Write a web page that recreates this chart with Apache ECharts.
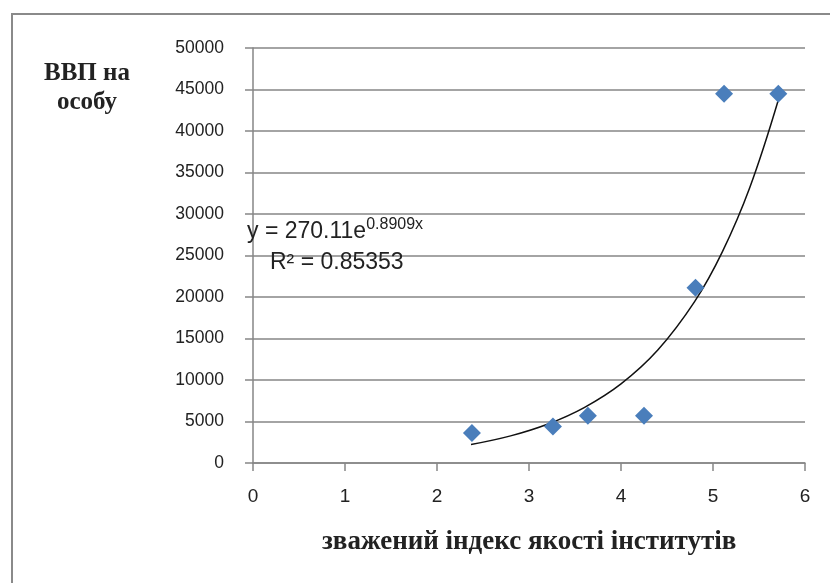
<!DOCTYPE html>
<html><head><meta charset="utf-8">
<script src="https://cdn.jsdelivr.net/npm/echarts@6/dist/echarts.min.js"></script>
<style>html,body{margin:0;padding:0;background:#fff}#c{width:830px;height:583px}</style>
</head><body><div id="c"></div>
<script>
const xValues = [2.38, 3.26, 3.64, 4.25, 4.81, 5.12, 5.71];
const yValues = [3600, 4400, 5700, 5700, 21100, 44500, 44500];
const trendX = [2.37, 2.8, 3.2, 3.6, 4.0, 4.4, 4.8, 5.1, 5.4, 5.71];
const trendY = [2230, 3270, 4670, 6680, 9530, 13610, 19440, 25400, 33190, 43730];
const xTicks = [0, 1, 2, 3, 4, 5, 6];
const yTicks = [0, 5000, 10000, 15000, 20000, 25000, 30000, 35000, 40000, 45000, 50000];
const yName = 'ВВП на\nособу';
const xName = 'зважений індекс якості інститутів';
const eqText = 'y = 270.11e';
const eqExp = '0.8909x';
const r2Text = 'R² = 0.85353';

const FONT = '"Liberation Sans"';
const chart = echarts.init(document.getElementById('c'), null, {renderer: 'canvas'});
chart.setOption({
  animation: false,
  grid: {left: 253, right: 25, top: 48, bottom: 120, containLabel: false},
  xAxis: {
    type: 'value', min: xTicks[0], max: xTicks[xTicks.length - 1], interval: 1,
    axisLine: {show: true, onZero: false, lineStyle: {color: '#868686', width: 1.5}},
    axisTick: {show: true, length: 8, lineStyle: {color: '#868686', width: 1.5}},
    axisLabel: {margin: 24, formatter: v => String(v), fontFamily: FONT, fontSize: 19, color: '#222'},
    splitLine: {show: false}
  },
  yAxis: {
    type: 'value', min: yTicks[0], max: yTicks[yTicks.length - 1], interval: 5000,
    axisLine: {show: true, onZero: false, lineStyle: {color: '#868686', width: 1.5}},
    axisTick: {show: true, length: 8, lineStyle: {color: '#868686', width: 1.5}},
    axisLabel: {margin: 29, formatter: v => String(v), fontFamily: FONT, fontSize: 17.5, color: '#222'},
    splitLine: {show: true, lineStyle: {color: '#868686', width: 1.5}}
  },
  graphic: [
    {type: 'rect', shape: {x: 12, y: 14, width: 840, height: 600}, style: {fill: 'none', stroke: '#8a8a8a', lineWidth: 2}, z: 0, silent: true},
    {type: 'text', left: 44, top: 59, style: {text: yName, font: 'bold 25px "Liberation Serif"', fill: '#222', textAlign: 'center', lineHeight: 29}, z: 10},
    {type: 'text', left: 322, top: 529, style: {text: xName, font: 'bold 27px "Liberation Serif"', fill: '#222'}, z: 10},
    {type: 'text', left: 247, top: 217, style: {
      text: '{a|' + eqText + '}{b|' + eqExp + '}',
      rich: {a: {fontFamily: FONT, fontSize: 23, fill: '#222', verticalAlign: 'bottom'},
             b: {fontFamily: FONT, fontSize: 16, fill: '#222', verticalAlign: 'top', padding: [0,0,10,0]}}
    }, z: 10},
    {type: 'text', left: 270, top: 251, style: {text: r2Text, font: '23px ' + FONT, fill: '#222'}, z: 10}
  ],
  series: [
    {type: 'line', data: trendX.map((x, i) => [x, trendY[i]]), smooth: 0.4, showSymbol: false,
     lineStyle: {color: '#111', width: 1.5}, z: 3},
    {type: 'scatter', data: xValues.map((x, i) => [x, yValues[i]]), symbol: 'diamond', symbolSize: 18,
     itemStyle: {color: '#4A7EBB', opacity: 1}, z: 4}
  ]
});
</script></body></html>
